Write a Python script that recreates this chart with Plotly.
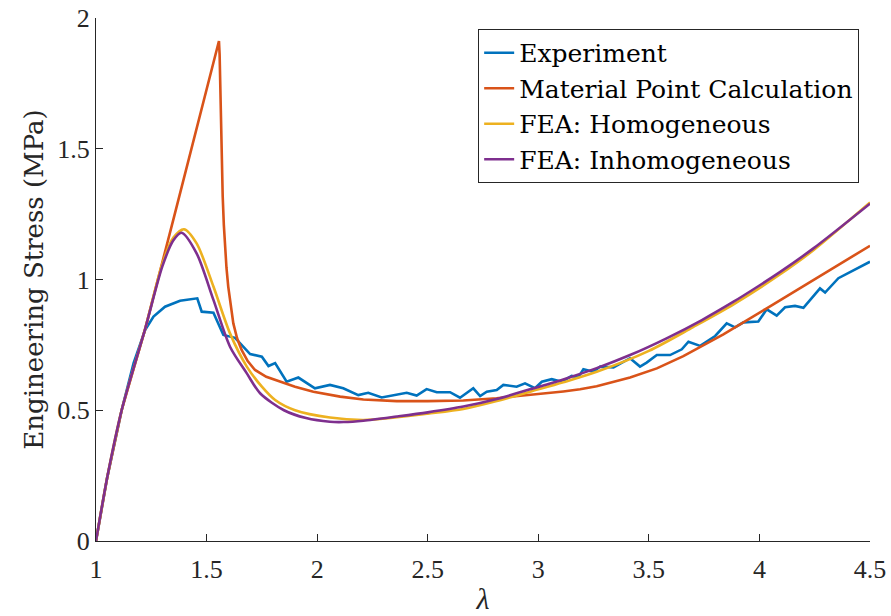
import plotly.graph_objects as go

# ---- data ----
exp_x = [1.0, 1.05, 1.116, 1.17, 1.222, 1.26, 1.312, 1.38, 1.458, 1.478, 1.531, 1.576, 1.629,
         1.697, 1.75, 1.78, 1.81, 1.862, 1.915, 1.99, 2.058, 2.118, 2.186, 2.231, 2.292, 2.35,
         2.405, 2.45, 2.495, 2.541, 2.601, 2.646, 2.706, 2.737, 2.767, 2.812, 2.842, 2.902,
         2.94, 2.985, 3.016, 3.061, 3.106, 3.151, 3.181, 3.204, 3.249, 3.28, 3.34, 3.415,
         3.46, 3.49, 3.536, 3.596, 3.649, 3.679, 3.732, 3.8, 3.852, 3.89, 3.928, 3.995,
         4.033, 4.078, 4.116, 4.161, 4.199, 4.274, 4.297, 4.357, 4.43, 4.5]
exp_y = [0.0, 0.24, 0.5, 0.68, 0.807, 0.858, 0.896, 0.919, 0.928, 0.877, 0.873, 0.788, 0.777,
         0.715, 0.705, 0.669, 0.68, 0.609, 0.625, 0.584, 0.597, 0.584, 0.558, 0.567, 0.549, 0.558,
         0.567, 0.556, 0.581, 0.569, 0.569, 0.548, 0.584, 0.554, 0.571, 0.577, 0.597, 0.59,
         0.603, 0.584, 0.609, 0.619, 0.609, 0.631, 0.626, 0.657, 0.647, 0.667, 0.664, 0.699,
         0.667, 0.682, 0.711, 0.711, 0.733, 0.762, 0.746, 0.784, 0.832, 0.817, 0.836, 0.839,
         0.886, 0.862, 0.894, 0.899, 0.892, 0.966, 0.95, 1.005, 1.037, 1.068]

mp_x = [1.0, 1.05, 1.116, 1.222, 1.35, 1.45, 1.556, 1.559, 1.562, 1.565, 1.569, 1.573, 1.578,
        1.583, 1.59, 1.598, 1.609, 1.621, 1.638, 1.659, 1.686, 1.719, 1.77, 1.832, 1.9, 1.983,
        2.104, 2.209, 2.36, 2.5, 2.661, 2.812, 2.963, 3.113, 3.189, 3.264, 3.415, 3.536,
        3.656, 3.837, 4.033, 4.259, 4.5]
mp_y = [0.0, 0.24, 0.5, 0.81, 1.23, 1.56, 1.912, 1.86, 1.72, 1.572, 1.44, 1.317, 1.21,
        1.125, 1.045, 0.973, 0.9, 0.832, 0.775, 0.73, 0.688, 0.654, 0.628, 0.609, 0.59, 0.571,
        0.552, 0.541, 0.535, 0.535, 0.537, 0.546, 0.558, 0.572, 0.58, 0.592, 0.625, 0.66,
        0.707, 0.79, 0.89, 1.005, 1.129]

hom_x = [1.0, 1.05, 1.116, 1.222, 1.3, 1.35, 1.398, 1.455, 1.531, 1.606, 1.682, 1.75, 1.81,
         1.9, 2.058, 2.209, 2.36, 2.5, 2.661, 2.812, 2.963, 3.113, 3.264, 3.5, 3.7, 3.883,
         4.094, 4.244, 4.5]
hom_y = [0.0, 0.24, 0.5, 0.81, 1.06, 1.16, 1.192, 1.138, 0.973, 0.794, 0.667, 0.59, 0.539,
         0.5, 0.472, 0.463, 0.473, 0.487, 0.505, 0.535, 0.571, 0.607, 0.647, 0.727, 0.818,
         0.905, 1.02, 1.112, 1.295]

inh_x = [1.0, 1.05, 1.116, 1.222, 1.3, 1.35, 1.387, 1.455, 1.531, 1.606, 1.682, 1.742, 1.85,
         1.95, 2.058, 2.12, 2.209, 2.36, 2.5, 2.661, 2.812, 2.963, 3.113, 3.264, 3.415, 3.58,
         3.74, 3.883, 4.0, 4.094, 4.244, 4.5]
inh_y = [0.0, 0.24, 0.5, 0.81, 1.05, 1.15, 1.179, 1.1, 0.922, 0.743, 0.641, 0.565, 0.5,
         0.47, 0.456, 0.455, 0.46, 0.476, 0.492, 0.514, 0.543, 0.58, 0.618, 0.661, 0.711, 0.775,
         0.845, 0.915, 0.977, 1.029, 1.119, 1.29]

series = [
    ("Experiment", exp_x, exp_y, "#0072BD", "linear"),
    ("Material Point Calculation", mp_x, mp_y, "#D95319", "linear"),
    ("FEA: Homogeneous", hom_x, hom_y, "#EDB120", "spline"),
    ("FEA: Inhomogeneous", inh_x, inh_y, "#7E2F8E", "spline"),
]

x_ticks = [1, 1.5, 2, 2.5, 3, 3.5, 4, 4.5]
x_tick_text = ["1", "1.5", "2", "2.5", "3", "3.5", "4", "4.5"]
y_ticks = [0, 0.5, 1, 1.5, 2]
y_tick_text = ["0", "0.5", "1", "1.5", "2"]

TEXT_FONT = "DejaVu Serif"
TICK_FONT = "Liberation Serif"
AX_COLOR = "#262626"

fig = go.Figure()
for name, xs, ys, col, shape in series:
    line = dict(color=col, width=2.6, shape=shape)
    if shape == "spline":
        line["smoothing"] = 0.8
    fig.add_trace(go.Scatter(x=xs, y=ys, mode="lines", name=name, line=line))

fig.update_layout(
    width=891, height=616,
    margin=dict(l=96, r=21, t=18, b=75, autoexpand=False),
    paper_bgcolor="white", plot_bgcolor="white",
    showlegend=True,
    legend=dict(x=0.986, y=0.979, xanchor="right", yanchor="top",
                bgcolor="white", bordercolor=AX_COLOR, borderwidth=1,
                font=dict(family=TEXT_FONT, size=25, color="black"),
                tracegroupgap=0),
    xaxis=dict(range=[1, 4.5], tickvals=x_ticks, ticktext=x_tick_text, automargin=False,
               showgrid=False, zeroline=False, showline=True, linecolor=AX_COLOR,
               linewidth=1, ticks="inside", ticklen=7, tickcolor=AX_COLOR,
               ticklabelstandoff=5,
               tickfont=dict(family=TICK_FONT, size=26, color="#262626"),
               title=dict(text="<i>λ</i>", font=dict(family=TICK_FONT, size=30, color="#262626"),
                          standoff=4)),
    yaxis=dict(range=[0, 2], tickvals=y_ticks, ticktext=y_tick_text, automargin=False,
               showgrid=False, zeroline=False, showline=True, linecolor=AX_COLOR,
               linewidth=1, ticks="inside", ticklen=7, tickcolor=AX_COLOR,
               tickfont=dict(family=TICK_FONT, size=26, color="#262626"),
               title=dict(text="Engineering Stress (MPa)",
                          font=dict(family=TEXT_FONT, size=26, color="#262626"),
                          standoff=6)),
)

fig.write_html("out.html")
